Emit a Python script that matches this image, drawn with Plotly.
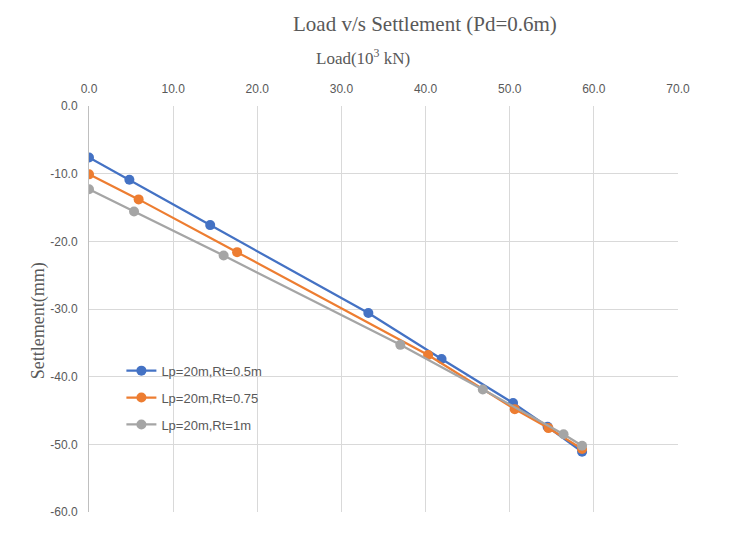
import plotly.graph_objects as go

# Load (10^3 kN) vs settlement (mm)
load_rt05 = [0.0, 4.8, 14.4, 33.2, 41.9, 50.4, 54.5, 58.6]
settle_rt05 = [-7.6, -10.9, -17.6, -30.6, -37.4, -43.9, -47.4, -51.1]

load_rt075 = [0.0, 5.9, 17.6, 40.3, 50.6, 54.6, 58.6]
settle_rt075 = [-10.1, -13.8, -21.6, -36.8, -44.8, -47.6, -50.7]

load_rt1 = [0.0, 5.35, 16.0, 37.0, 46.8, 56.4, 58.6]
settle_rt1 = [-12.3, -15.6, -22.1, -35.3, -41.9, -48.5, -50.2]

series_names = ["Lp=20m,Rt=0.5m", "Lp=20m,Rt=0.75", "Lp=20m,Rt=1m"]
colors = ["#4472C4", "#ED7D31", "#A5A5A5"]

x_ticks = [0, 10, 20, 30, 40, 50, 60, 70]
x_labels = ["0.0", "10.0", "20.0", "30.0", "40.0", "50.0", "60.0", "70.0"]
y_ticks = [0, -10, -20, -30, -40, -50, -60]
y_labels = ["0.0", "-10.0", "-20.0", "-30.0", "-40.0", "-50.0", "-60.0"]

fig = go.Figure()
for i, (xs, ys, name, col) in enumerate(zip(
    [load_rt05, load_rt075, load_rt1],
    [settle_rt05, settle_rt075, settle_rt1],
    series_names,
    colors,
)):
    fig.add_trace(
        go.Scatter(
            x=xs,
            y=ys,
            mode="lines+markers",
            name=name,
            legendgroup=f"g{i}",
            line=dict(color=col, width=2.25),
            marker=dict(color=col, size=10),
        )
    )

tick_font = dict(family="Liberation Sans", size=12, color="#595959")
serif = "Liberation Serif, Times New Roman, serif"

# page body adds ~8px margin, so the figure is a bit smaller than the window
fig.update_layout(
    width=724,
    height=524,
    paper_bgcolor="white",
    plot_bgcolor="white",
    margin=dict(l=81, r=54, t=98, b=20),
    showlegend=True,
    legend=dict(
        x=0.055,
        y=0.385,
        xanchor="left",
        yanchor="top",
        bgcolor="rgba(0,0,0,0)",
        font=dict(family="Liberation Sans", size=13, color="#595959"),
        tracegroupgap=7,
    ),
    annotations=[
        dict(
            text="Load v/s Settlement (Pd=0.6m)",
            xref="paper", yref="paper",
            x=0.57, y=1.0, yshift=82,
            xanchor="center", yanchor="middle",
            showarrow=False,
            font=dict(family=serif, size=21, color="#595959"),
        ),
        dict(
            text="Load(10<sup>3</sup> kN)",
            xref="paper", yref="paper",
            x=0.465, y=1.0, yshift=49,
            xanchor="center", yanchor="middle",
            showarrow=False,
            font=dict(family=serif, size=17, color="#595959"),
        ),
        dict(
            text="Settlement(mm)",
            xref="paper", yref="paper",
            x=0.0, xshift=-51, y=0.47,
            xanchor="center", yanchor="middle",
            textangle=-90,
            showarrow=False,
            font=dict(family=serif, size=18, color="#595959"),
        ),
    ],
)

fig.update_xaxes(
    side="top",
    range=[0, 70],
    tickvals=x_ticks,
    ticktext=x_labels,
    tickfont=tick_font,
    ticklabelstandoff=10,
    showgrid=True,
    gridcolor="#D9D9D9",
    gridwidth=1,
    zeroline=False,
    showline=False,
    ticks="",
)
fig.update_yaxes(
    range=[-60, 0],
    tickvals=y_ticks,
    ticktext=y_labels,
    tickfont=tick_font,
    ticklabelstandoff=8,
    showgrid=True,
    gridcolor="#D9D9D9",
    gridwidth=1,
    zeroline=False,
    showline=True,
    linecolor="#BFBFBF",
    ticks="",
)

fig.write_html("out.html")
